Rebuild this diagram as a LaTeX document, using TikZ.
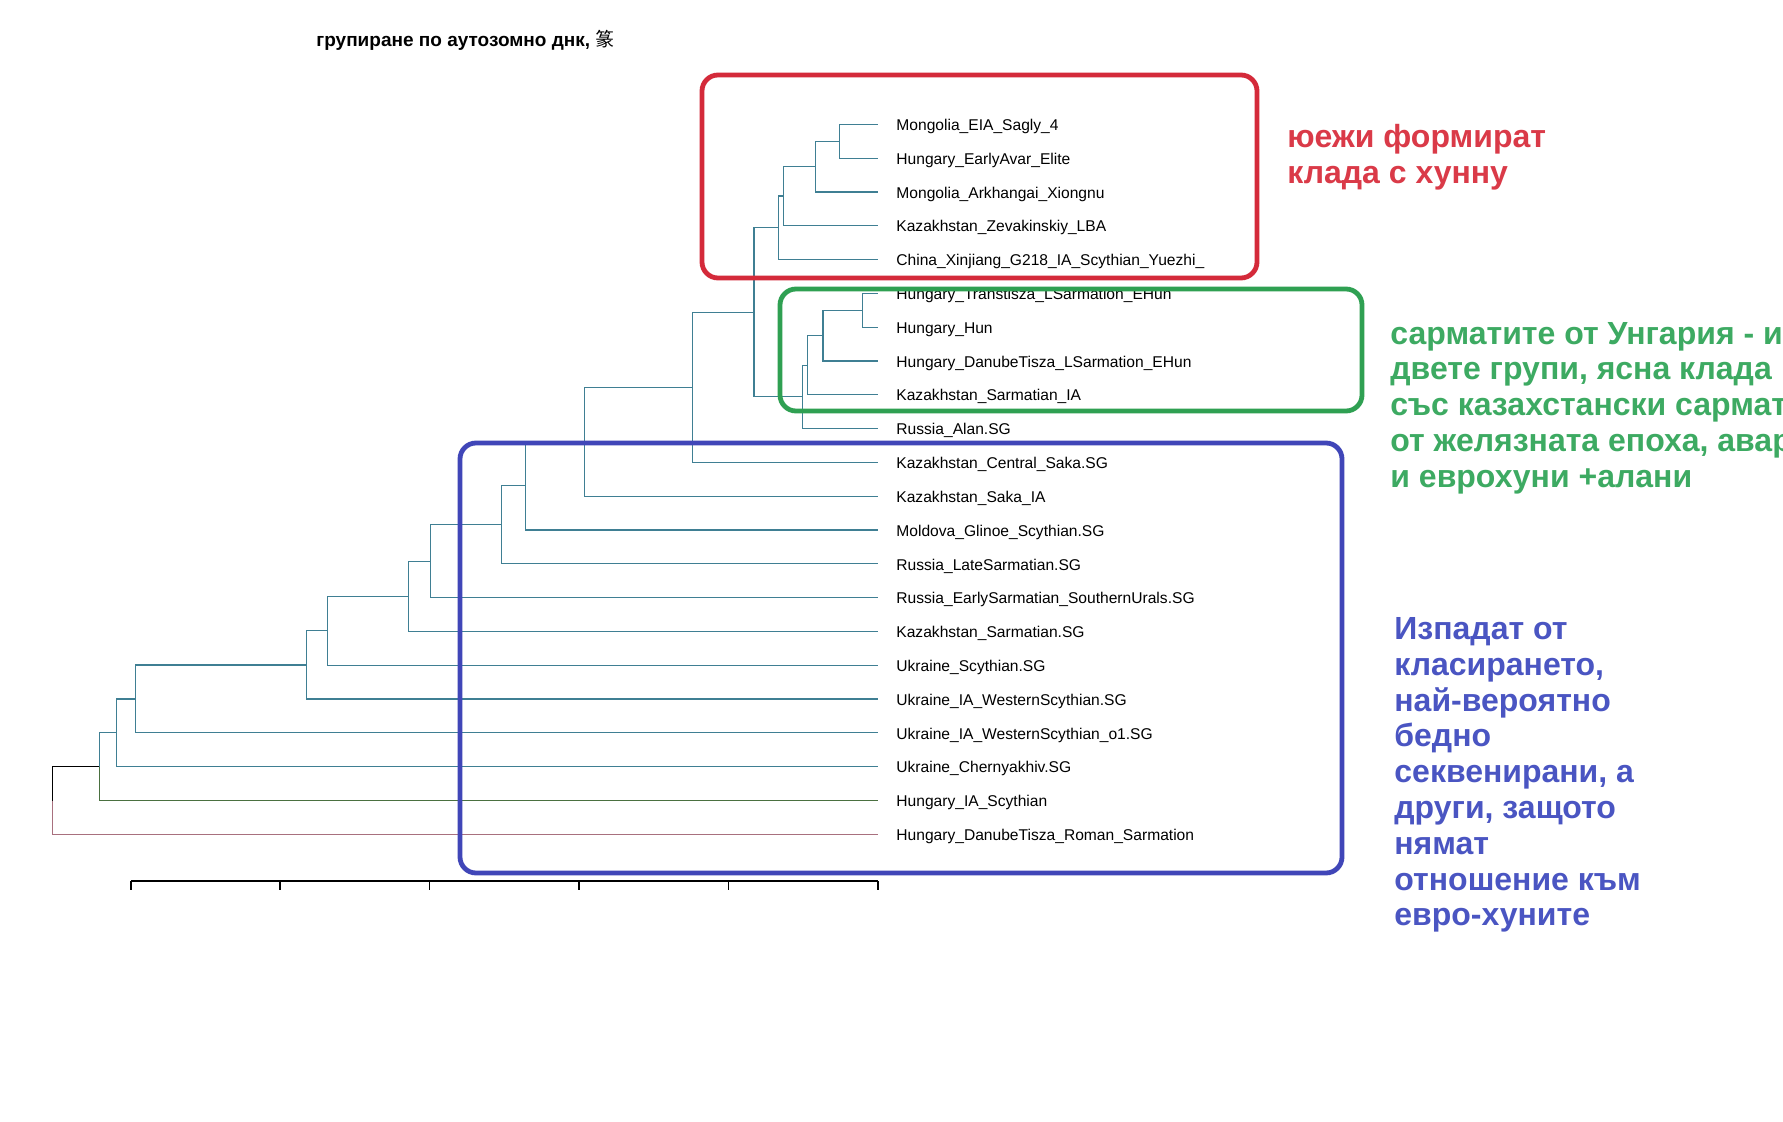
\documentclass[tikz,border=0pt]{standalone}
\usepackage{fontspec}
\setmainfont{Liberation Sans}
\newfontfamily\cjkfont{Noto Sans CJK SC}
\usetikzlibrary{positioning}
\definecolor{branch}{HTML}{3F7F93}
\definecolor{olive}{HTML}{4A7040}
\definecolor{rose}{HTML}{A8707E}
\definecolor{redbox}{HTML}{D42A3A}
\definecolor{greenbox}{HTML}{2FA052}
\definecolor{bluebox}{HTML}{4046B8}
\definecolor{redtext}{HTML}{DA3A48}
\definecolor{greentext}{HTML}{3DAA62}
\definecolor{bluetext}{HTML}{4A55C2}

\begin{document}
\begin{tikzpicture}[
  x=0.5pt, y=-0.5pt,
  leaf/.style={anchor=base west, inner sep=0pt, font=\fontsize{7.8}{9.4}\selectfont},
  edge/.style={branch, line width=0.6pt},
  clade/.style={line width=2.4pt, rounded corners=8pt},
  note/.style={anchor=west, align=left, inner sep=0pt, font=\bfseries\fontsize{16}{17.9}\selectfont}
]
  \clip (0,0) rectangle (1783,1122);
  \fill[white] (0,0) rectangle (1783,1122);

  \node[anchor=west, inner sep=0pt, font=\bfseries\fontsize{9.5}{11}\selectfont] (title) at (316,40)
    {групиране по аутозомно днк, {\cjkfont\mdseries 篆}};

  % leaves
  \foreach \name [count=\i from 0] in {Mongolia\_EIA\_Sagly\_4, Hungary\_EarlyAvar\_Elite,
      Mongolia\_Arkhangai\_Xiongnu, Kazakhstan\_Zevakinskiy\_LBA,
      China\_Xinjiang\_G218\_IA\_Scythian\_Yuezhi\_, Hungary\_Transtisza\_LSarmation\_EHun,
      Hungary\_Hun, Hungary\_DanubeTisza\_LSarmation\_EHun, Kazakhstan\_Sarmatian\_IA,
      Russia\_Alan.SG, Kazakhstan\_Central\_Saka.SG, Kazakhstan\_Saka\_IA,
      Moldova\_Glinoe\_Scythian.SG, Russia\_LateSarmatian.SG,
      Russia\_EarlySarmatian\_SouthernUrals.SG, Kazakhstan\_Sarmatian.SG,
      Ukraine\_Scythian.SG, Ukraine\_IA\_WesternScythian.SG,
      Ukraine\_IA\_WesternScythian\_o1.SG, Ukraine\_Chernyakhiv.SG,
      Hungary\_IA\_Scythian, Hungary\_DanubeTisza\_Roman\_Sarmation} {
    \coordinate (t\i) at (878,{124.3+33.81*\i});
    \node[leaf] (lab\i) at (896,{130.5+33.81*\i}) {\name};
  }

  % merge points
  \coordinate (P) at (839.6,141.2);
  \coordinate (Q) at (815.7,166.55);
  \coordinate (R) at (783.6,196.1);
  \coordinate (M) at (778.2,227.8);
  \coordinate (S) at (862.1,310.3);
  \coordinate (T) at (822.9,335.65);
  \coordinate (U) at (807.5,365.2);
  \coordinate (N) at (802.5,396.9);
  \coordinate (L) at (754,312.35);
  \coordinate (K) at (692.3,387.4);
  \coordinate (J) at (584.3,441.8);
  \coordinate (I) at (525.3,485.9);
  \coordinate (H) at (501.3,524.85);
  \coordinate (G) at (430.3,561.2);
  \coordinate (F) at (408.3,596.35);
  \coordinate (E) at (327.3,630.8);
  \coordinate (D) at (306.3,664.95);
  \coordinate (C) at (135.7,698.9);
  \coordinate (B) at (116.7,732.8);
  \coordinate (A) at (99.3,766.65);
  \coordinate (root) at (52.3,800.5);

  \foreach \a/\b in {P/t0, P/t1, Q/P, Q/t2, R/Q, R/t3, M/R, M/t4,
      S/t5, S/t6, T/S, T/t7, U/T, U/t8, N/U, N/t9, L/M, L/N,
      K/L, K/t10, J/K, J/t11, I/J, I/t12, H/I, H/t13, G/H, G/t14,
      F/G, F/t15, E/F, E/t16, D/E, D/t17, C/D, C/t18, B/C, B/t19, A/B}
    \draw[edge] (\a) |- (\b);
  \draw[edge, olive] (A) |- (t20);
  \draw[edge, black] (root) |- (A);
  \draw[edge, rose] (root) |- (t21);

  % axis
  \draw[line width=0.75pt] (130.8,881) -- (878,881);
  \foreach \k in {0,...,5}
    \draw[line width=0.75pt] ({130.8+149.44*\k},881) -- ++(0,9);

  % clades
  \draw[clade, redbox] (702,75) rectangle (1257,278);
  \draw[clade, greenbox] (780,289) rectangle (1362,411);
  \draw[clade, bluebox] (460,443) rectangle (1342,873);

  \node[note, text=redtext] (yuezhi) at (1287,157) {юежи формират\\клада с хунну};
  \node[note, text=greentext] (sarm) at (1390,408)
    {сарматите от Унгария - и\\двете групи, ясна клада\\със казахстански сармат\\от желязната епоха, авар\\и еврохуни +алани};
  \node[note, text=bluetext] (outl) at (1394,775)
    {Изпадат от\\класирането,\\най-вероятно\\бедно\\секвенирани, а\\други, защото\\нямат\\отношение към\\евро-хуните};
\end{tikzpicture}
\end{document}
